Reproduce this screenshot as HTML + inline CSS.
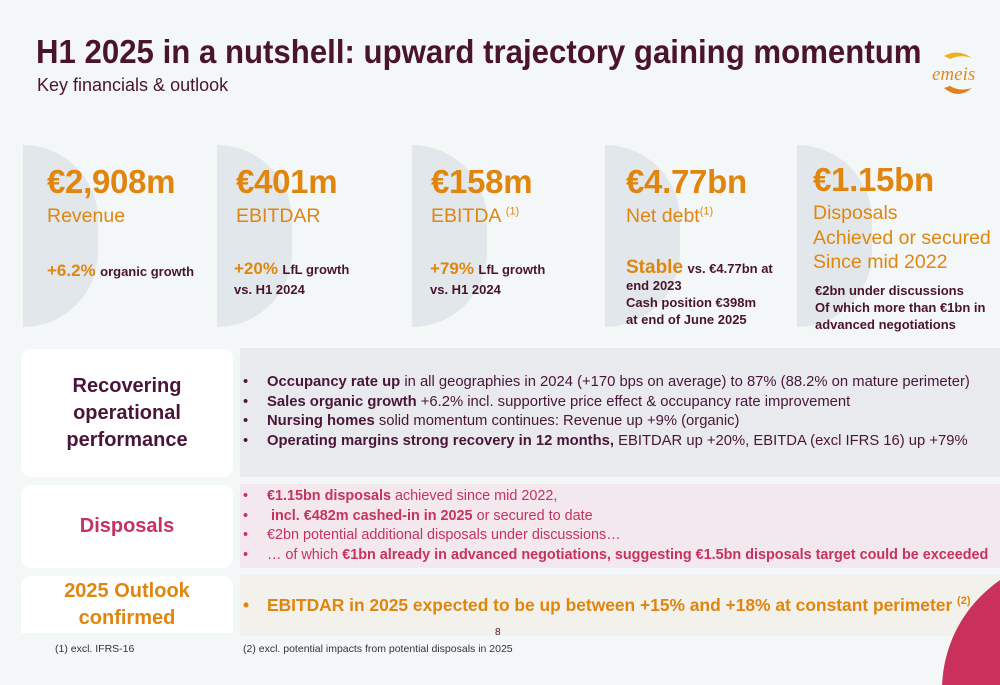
<!DOCTYPE html>
<html style="width:1000px;height:685px;overflow:hidden"><head><meta charset="utf-8">
<style>
*{margin:0;padding:0;box-sizing:border-box}
body{width:1000px;height:685px;overflow:hidden;background:#f4f7f8;font-family:"Liberation Sans",sans-serif;position:relative;color:#4a1528}
.a{position:absolute;white-space:nowrap}
.half{position:absolute;width:75px;height:182px;background:#e1e7eb;border-radius:0 91px 91px 0/0 91px 91px 0;top:145px}
.big{font-size:33px;font-weight:bold;color:#e0860f;letter-spacing:-0.3px}
.lab{font-size:19.5px;color:#e0860f}
.pct{font-size:17px;font-weight:bold;color:#e0860f}
.sm{font-size:13px;font-weight:bold;color:#4a1528;line-height:17px}
.box{position:absolute;background:#fff;border-radius:10px;left:21px;width:212px;display:flex;align-items:center;justify-content:center;text-align:center;font-weight:bold}
.pan{position:absolute;left:240px;width:760px;overflow:hidden}
ul{list-style:none}
li{position:relative;padding-left:27px;white-space:nowrap}
li:before{content:"•";position:absolute;left:3px}
</style></head><body>
<div class="a" style="left:36px;top:33px;font-size:33px;font-weight:bold;color:#4a1528;transform:scaleX(0.945);transform-origin:left">H1 2025 in a nutshell: upward trajectory gaining momentum</div>
<div class="a" style="left:37px;top:75px;font-size:18px;color:#4a1528">Key financials &amp; outlook</div>
<svg class="a" style="left:930px;top:50px" width="60" height="50"><path d="M14 6 Q28 -2 42 8 Q30 4 20 9Z" fill="#efb020"/><text x="2" y="30" font-family="Liberation Serif" font-style="italic" font-size="19" fill="#e08a20">emeis</text><path d="M14 38 Q28 50 42 38 Q30 42 20 36Z" fill="#e08020"/></svg>

<div class="half" style="left:23px"></div>
<div class="half" style="left:217px"></div>
<div class="half" style="left:412px"></div>
<div class="half" style="left:605px"></div>
<div class="half" style="left:797px"></div>

<div class="a big" style="left:47px;top:163px">€2,908m</div>
<div class="a lab" style="left:47px;top:205px">Revenue</div>
<div class="a" style="left:47px;top:261px"><span class="pct">+6.2%</span> <span class="sm">organic growth</span></div>

<div class="a big" style="left:236px;top:163px">€401m</div>
<div class="a lab" style="left:236px;top:205px">EBITDAR</div>
<div class="a" style="left:234px;top:259px;line-height:20px"><span class="pct">+20%</span> <span class="sm">LfL growth</span><br><span class="sm">vs. H1 2024</span></div>

<div class="a big" style="left:431px;top:163px">€158m</div>
<div class="a lab" style="left:431px;top:205px">EBITDA <sup style="font-size:11px">(1)</sup></div>
<div class="a" style="left:430px;top:259px;line-height:20px"><span class="pct">+79%</span> <span class="sm">LfL growth</span><br><span class="sm">vs. H1 2024</span></div>

<div class="a big" style="left:626px;top:163px">€4.77bn</div>
<div class="a lab" style="left:626px;top:205px">Net debt<sup style="font-size:11px">(1)</sup></div>
<div class="a" style="left:626px;top:259px;line-height:17px"><span class="pct" style="font-size:19px">Stable</span> <span class="sm">vs. €4.77bn at</span><br><span class="sm">end 2023<br>Cash position €398m<br>at end of June 2025</span></div>

<div class="a big" style="left:813px;top:161px">€1.15bn</div>
<div class="a lab" style="left:813px;top:201px;line-height:24.5px">Disposals<br>Achieved or secured<br>Since mid 2022</div>
<div class="a sm" style="left:815px;top:282px">€2bn under discussions<br>Of which more than €1bn in<br>advanced negotiations</div>

<div class="box" style="top:349px;height:128px;font-size:20px;line-height:27px;color:#4a1538">Recovering<br>operational<br>performance</div>
<div class="pan" style="top:348px;height:129px;background:#e8eaed;padding-top:25px;font-size:14.8px;line-height:19.7px;color:#4a1538">
<ul>
<li><b>Occupancy rate up</b> in all geographies in 2024 (+170 bps on average) to 87% (88.2% on mature perimeter)</li>
<li><b>Sales organic growth</b> +6.2% incl. supportive price effect &amp; occupancy rate improvement</li>
<li><b>Nursing homes</b> solid momentum continues: Revenue up +9% (organic)</li>
<li><b>Operating margins strong recovery in 12 months,</b> EBITDAR up +20%, EBITDA (excl IFRS 16) up +79%</li>
</ul></div>

<div class="box" style="top:485px;height:83px;font-size:20px;color:#c7325e">Disposals</div>
<div class="pan" style="top:484px;height:84px;background:#f3e8ed;padding-top:3px;font-size:14.4px;line-height:19.7px;color:#c7325e">
<ul>
<li><b>€1.15bn disposals</b> achieved since mid 2022,</li>
<li><b>&nbsp;incl. €482m cashed-in in 2025</b> or secured to date</li>
<li>€2bn potential additional disposals under discussions…</li>
<li>… of which <b>€1bn already in advanced negotiations, suggesting €1.5bn disposals target could be exceeded</b></li>
</ul></div>

<div class="box" style="top:576px;height:57px;font-size:20px;line-height:27px;color:#e0860f;border-radius:10px 10px 0 0">2025 Outlook<br>confirmed</div>
<div class="pan" style="top:575px;height:61px;background:#f2f1ec;padding-top:20px;font-size:17.4px;font-weight:bold;color:#e0860f">
<ul><li>EBITDAR in 2025 expected to be up between +15% and +18% at constant perimeter <sup style="font-size:11px">(2)</sup></li></ul></div>

<div class="a" style="left:495px;top:627px;font-size:10px">8</div>
<div class="a" style="left:55px;top:643px;font-size:10.5px;color:#333">(1) excl. IFRS-16</div>
<div class="a" style="left:243px;top:643px;font-size:10.5px;color:#333">(2) excl. potential impacts from potential disposals in 2025</div>

<svg class="a" style="left:900px;top:540px" width="100" height="145"><circle cx="175" cy="150" r="133" fill="#c9305a"/></svg>
</body></html>
